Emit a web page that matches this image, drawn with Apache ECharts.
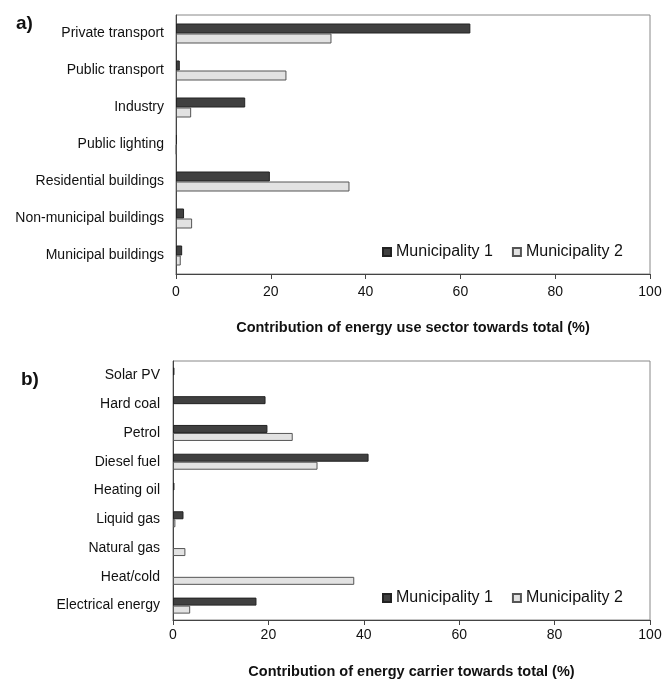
<!DOCTYPE html>
<html><head><meta charset="utf-8">
<script src="https://cdn.jsdelivr.net/npm/echarts@6/dist/echarts.min.js"></script>
<style>html,body{margin:0;padding:0;background:#fff}#c{width:666px;height:680px}</style>
</head><body><div id="c"></div>
<script>
var sectors = ['Private transport','Public transport','Industry','Public lighting','Residential buildings','Non-municipal buildings','Municipal buildings'];
var sectorM1 = [62.1, 0.8, 14.6, 0.2, 19.8, 1.7, 1.3];
var sectorM2 = [32.8, 23.3, 3.2, 0.1, 36.6, 3.4, 1.0];
var carriers = ['Solar PV','Hard coal','Petrol','Diesel fuel','Heating oil','Liquid gas','Natural gas','Heat/cold','Electrical energy'];
var carrierM1 = [0.3, 19.4, 19.8, 41.0, 0.3, 2.2, 0, 0, 17.5];
var carrierM2 = [0, 0, 25.1, 30.3, 0, 0.5, 2.6, 38.0, 3.6];
var seriesNames = ['Municipality 1','Municipality 2'];
var xTitleA = 'Contribution of energy use sector towards total (%)';
var xTitleB = 'Contribution of energy carrier towards total (%)';

var font = 'Arial, "Liberation Sans", sans-serif';
var dark = {color:'#404040', borderColor:'#222', borderWidth:1};
var light = {color:'#e2e2e2', borderColor:'#555', borderWidth:1};
function nz(arr){ return arr.map(function(v){ return v === 0 ? '-' : v; }); }

function xAx(grid, title, lm, gap){
  return {gridIndex:grid, type:'value', min:0, max:100, interval:20,
    axisLine:{show:true, lineStyle:{color:'#444'}},
    axisTick:{show:true, length:5, lineStyle:{color:'#444'}},
    splitLine:{show:false},
    axisLabel:{color:'#111', fontSize:14, fontFamily:font, margin:lm},
    name:title, nameLocation:'middle', nameGap:gap,
    nameTextStyle:{color:'#111', fontSize:14.5, fontWeight:'bold', fontFamily:font}};
}
function yAx(grid, cats, m){
  return {gridIndex:grid, type:'category', data:cats, inverse:true,
    axisLine:{show:true, lineStyle:{color:'#444'}},
    axisTick:{show:false},
    axisLabel:{color:'#111', fontSize:14, fontFamily:font, margin:m}};
}
var legendText = {fontSize:16, color:'#111', fontFamily:font};
var chart = echarts.init(document.getElementById('c'));
chart.setOption({
  animation:false,
  backgroundColor:'#fff',
  title:[
    {text:'a)', left:11, top:9, textStyle:{fontSize:19, fontWeight:'bold', color:'#111', fontFamily:font}},
    {text:'b)', left:16, top:365, textStyle:{fontSize:19, fontWeight:'bold', color:'#111', fontFamily:font}}
  ],
  legend:[
    {data:seriesNames, left:377, top:239, icon:'rect', itemWidth:8, itemHeight:8, itemGap:19, textStyle:legendText},
    {data:seriesNames, left:377, top:585, icon:'rect', itemWidth:8, itemHeight:8, itemGap:19, textStyle:legendText}
  ],
  grid:[
    {left:176, right:16, top:15, height:259, show:true, borderColor:'#888', borderWidth:1},
    {left:173, right:16, top:361, height:260, show:true, borderColor:'#888', borderWidth:1}
  ],
  xAxis:[xAx(0, xTitleA, 11, 46), xAx(1, xTitleB, 8, 44)],
  yAxis:[yAx(0, sectors, 12), yAx(1, carriers, 13)],
  series:[
    {name:seriesNames[0], type:'bar', xAxisIndex:0, yAxisIndex:0, data:nz(sectorM1), barWidth:10, barGap:'0%', itemStyle:dark},
    {name:seriesNames[1], type:'bar', xAxisIndex:0, yAxisIndex:0, data:nz(sectorM2), barWidth:10, barGap:'0%', itemStyle:light},
    {name:seriesNames[0], type:'bar', xAxisIndex:1, yAxisIndex:1, data:nz(carrierM1), barWidth:8, barGap:'0%', itemStyle:dark},
    {name:seriesNames[1], type:'bar', xAxisIndex:1, yAxisIndex:1, data:nz(carrierM2), barWidth:8, barGap:'0%', itemStyle:light}
  ]
});
</script></body></html>
